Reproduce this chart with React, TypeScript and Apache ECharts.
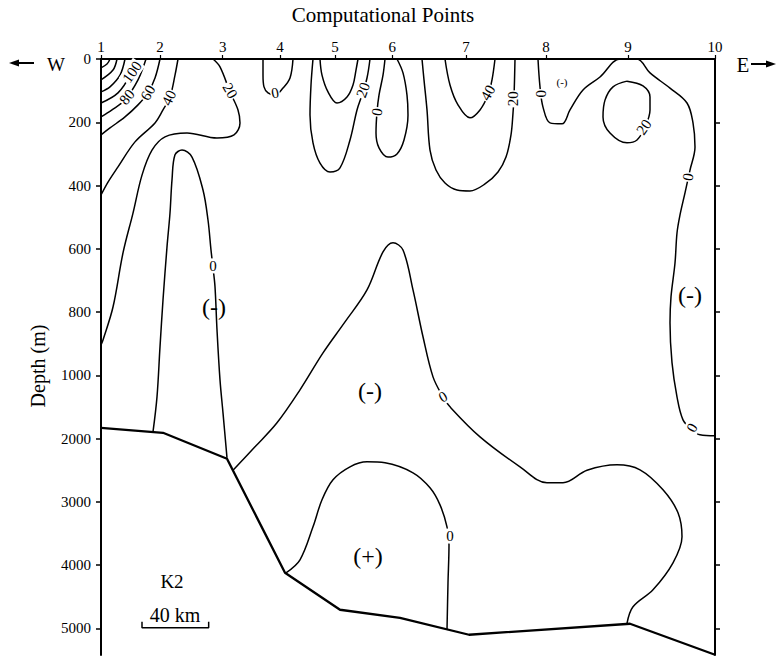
import { useEffect, useRef } from "react";
import * as echarts from "echarts";

// ---- axes ----
const pointLabels = ["1", "2", "3", "4", "5", "6", "7", "8", "9", "10"];
const pointKm = [0, 35.4, 73, 107.4, 140.4, 174.8, 219, 267, 316.2, 368.4];
const depthTicks = [0, 200, 400, 600, 800, 1000, 2000, 3000, 4000, 5000];
const X_MAX = 368.4;
const DEPTH_MAX = 5420;

// depth axis is broken: 0-1000 m at 200 m per step, 1000-5000 m at 1000 m per step
const toU = (d: number) => (d <= 1000 ? d / 200 : 5 + (d - 1000) / 1000);
const fromU = (u: number) => (u <= 5 ? u * 200 : 1000 + (u - 5) * 1000);

// ---- contours: [distance km, depth m] ----
const c160 = [[5.4, 0], [3.6, 16], [0, 28]];
const c140 = [[9.6, 0], [7.2, 35], [0, 66]];
const c120 = [[14.4, 0], [11.4, 51], [5.4, 88], [0, 104]];
const c100 = [[20.4, 0], [17.4, 51], [10.2, 107], [0, 139]];
const c80 = [[27, 0], [22.2, 66], [14.4, 129], [6.6, 161], [0, 183]];
const c60 = [[35.4, 0], [32.4, 60], [28.2, 107], [22.2, 145], [14.4, 183], [5.4, 218], [0, 240]];
const c40 = [[46.2, 0], [44.4, 51], [41.4, 120], [37.2, 161], [32.4, 202], [20.4, 262], [10.2, 341], [4.2, 389], [0, 430]];
const c20West = [[67.2, 0], [71.4, 25], [77.4, 104], [82.2, 161], [83.4, 202], [79.8, 240], [69.6, 250], [51.6, 234], [38.4, 246], [30.6, 288], [24.6, 367], [19.2, 487], [13.2, 613], [7.2, 784], [1.2, 888], [0, 904]];
const c0Tongue = [[31.2, 1893], [33.6, 1340], [35.4, 910], [37.2, 762], [39.6, 594], [41.4, 487], [42.6, 382], [44.4, 303], [48.6, 288], [54.6, 310], [61.2, 414], [64.2, 509], [66, 604], [67.2, 660], [68.4, 720], [69.6, 856], [71.4, 1071], [73.2, 1593], [75.6, 2304]];
const c0Pt4 = [[97.2, 0], [97.2, 51], [97.8, 88], [100.2, 107], [104.4, 114], [109.2, 92], [113.4, 60], [115.2, 0]];
const c40Pt5 = [[131.4, 0], [132.6, 51], [136.2, 104], [141.6, 139], [147.6, 120], [151.2, 82], [153, 35], [154.2, 0]];
const c20Pt5 = [[127.2, 0], [126, 82], [125.4, 177], [127.2, 265], [131.4, 329], [137.4, 357], [143.4, 344], [149.4, 256], [153.6, 161], [156.6, 114], [159.6, 60], [161.4, 0]];
const c0Pt6 = [[170.4, 0], [169.2, 51], [166.8, 114], [165.6, 167], [165, 234], [166.8, 281], [172.2, 310], [177.6, 300], [181.8, 256], [184.2, 177], [183.6, 114], [181.2, 44], [177.6, 0]];
const c20Pt7 = [[192.6, 0], [193.8, 66], [195.6, 161], [197.4, 288], [201, 351], [206.4, 392], [213.6, 414], [221.4, 417], [230.4, 395], [238.2, 357], [243, 310], [246, 240], [247.2, 171], [247.8, 120], [248.4, 0]];
const c40Pt7 = [[206.4, 0], [209.4, 82], [214.2, 145], [221.4, 186], [227.4, 161], [232.2, 114], [234.6, 66], [236.4, 0]];
const c20Loop9 = [[315.6, 70], [307.2, 88], [302.4, 130], [301.2, 183], [305.4, 234], [315.6, 265], [321.6, 256], [326.4, 215], [329.4, 161], [329.4, 120], [325.2, 85], [315.6, 70]];
const c0East = [[262.2, 0], [263.4, 88], [265.2, 152], [269.4, 202], [276.6, 205], [281.4, 161], [289.2, 98], [299.4, 57], [311.4, 0], [321.6, 0], [329.4, 44], [341.4, 92], [351.6, 139], [355.2, 202], [356.4, 278], [353.4, 351], [350.4, 423], [347.4, 493], [345.6, 550], [344.4, 645], [342, 752], [341.4, 834], [342.6, 960], [345.6, 1340], [349.2, 1703], [354.6, 1861], [359.4, 1940], [368.4, 1956]];
const c0Middle = [[79.2, 2501], [92.4, 2130], [105.6, 1750], [119.4, 1229], [133.2, 929], [146.4, 831], [159.6, 730], [169.2, 610], [175.2, 581], [181.2, 604], [187.2, 730], [193.2, 878], [199.2, 1024], [205.2, 1340], [209.4, 1498], [227.4, 1972], [251.4, 2446], [267.6, 2699], [277.2, 2699], [291.6, 2501], [309.6, 2414], [323.4, 2493], [337.2, 2809], [346.2, 3173], [348.6, 3552], [343.2, 3963], [331.2, 4389], [319.2, 4658], [315.6, 4920]];
const c0Plus = [[111, 4121], [119.4, 3915], [127.2, 3394], [132.6, 2967], [139.2, 2651], [149.4, 2446], [159.6, 2367], [170.4, 2383], [187.2, 2541], [197.4, 2778], [203.4, 3047], [207.6, 3394], [208.8, 3678], [208.2, 4279], [207.6, 5021]];
const bathymetry = [[0, 1830], [37.2, 1908], [75.6, 2319], [110.4, 4121], [143.4, 4705], [179.4, 4832], [220.8, 5100], [317.4, 4926], [368.4, 5416]];
const scaleBar = [[24.6, 4895], [24.6, 4990], [64.6, 4990], [64.6, 4895]];

// ---- labels: [text, km, depth m, rotation deg] ----
const contourLabels: [string, number, number, number][] = [
  ["100", 18.6, 41, 55],
  ["80", 15.6, 120, 50],
  ["60", 28.2, 107, 60],
  ["40", 40.8, 123, 65],
  ["20", 77.4, 100, -60],
  ["0", 104.4, 107, 10],
  ["20", 157.2, 98, 70],
  ["0", 165.6, 167, 80],
  ["40", 232.2, 107, 60],
  ["20", 247.2, 126, 90],
  ["0", 264, 110, 90],
  ["20", 325.8, 215, 55],
  ["0", 352.2, 373, 80],
  ["0", 67.2, 654, 0],
  ["0", 205.2, 1340, 30],
  ["0", 209.4, 3540, 0],
  ["0", 354.6, 1830, 60],
];
// [text, km, depth m, font size]
const regionLabels: [string, number, number, number][] = [
  ["(-)", 67.8, 784, 24],
  ["(-)", 161.4, 1245, 24],
  ["(-)", 353.4, 746, 24],
  ["(+)", 160.2, 3852, 24],
  ["(-)", 276.6, 73, 11],
  ["K2", 42.6, 4263, 19],
  ["40 km", 44.4, 4790, 20],
];

const SERIF = "'Liberation Serif', 'Times New Roman', serif";

export default function App() {
  const ref = useRef<HTMLDivElement>(null);
  useEffect(() => {
    if (!ref.current) return;
    const chart = echarts.init(ref.current, undefined, { renderer: "svg" });
    const conv = (arr: number[][]) => arr.map(([x, d]) => [x, toU(d)]);
    const contours = [c160, c140, c120, c100, c80, c60, c40, c20West, c0Tongue, c0Pt4, c40Pt5, c20Pt5, c0Pt6, c20Pt7, c40Pt7, c20Loop9, c0East, c0Middle, c0Plus];
    const lineSeries = contours.map((c) => ({
      type: "line",
      data: conv(c),
      smooth: 0.35,
      showSymbol: false,
      silent: true,
      lineStyle: { color: "#000", width: 1.5 },
      z: 3,
    }));
    const uTicks = depthTicks.map(toU);
    const yCommon = {
      type: "value",
      inverse: true,
      min: 0,
      max: toU(DEPTH_MAX),
      splitLine: { show: false },
      axisLine: { show: true, lineStyle: { color: "#000", width: 2 } },
    };
    chart.setOption({
      animation: false,
      grid: { left: 101, top: 59, width: 614, height: 596, containLabel: false, outerBoundsMode: "none" },
      xAxis: {
        type: "value",
        position: "top",
        min: 0,
        max: X_MAX,
        splitLine: { show: false },
        axisLine: { show: true, onZero: false, lineStyle: { color: "#000", width: 2 } },
        axisTick: { show: true, customValues: pointKm, length: 4, lineStyle: { color: "#000", width: 1.2 } },
        axisLabel: {
          customValues: pointKm,
          margin: 5,
          fontFamily: SERIF,
          fontSize: 15,
          color: "#000",
          formatter: (v: number) => {
            const i = pointKm.findIndex((k) => Math.abs(k - v) < 0.5);
            return i >= 0 ? pointLabels[i] : "";
          },
        },
      },
      yAxis: [
        {
          ...yCommon,
          position: "left",
          axisTick: { show: true, customValues: uTicks, length: 5, lineStyle: { color: "#000", width: 1.5 } },
          axisLabel: {
            customValues: uTicks,
            margin: 10,
            fontFamily: SERIF,
            fontSize: 15,
            color: "#000",
            formatter: (v: number) => String(Math.round(fromU(v))),
          },
        },
        {
          ...yCommon,
          position: "right",
          axisTick: { show: true, customValues: uTicks.slice(1), length: 5, lineStyle: { color: "#000", width: 1.5 } },
          axisLabel: { show: false },
        },
      ],
      series: [
        ...lineSeries,
        {
          type: "line",
          data: conv(bathymetry),
          smooth: false,
          showSymbol: false,
          silent: true,
          lineStyle: { color: "#000", width: 2.3 },
          z: 4,
        },
        {
          type: "line",
          data: conv(scaleBar),
          smooth: false,
          showSymbol: false,
          silent: true,
          lineStyle: { color: "#000", width: 1.5 },
          z: 4,
        },
      ],
    });

    const toPx = (x: number, d: number) =>
      chart.convertToPixel({ xAxisIndex: 0, yAxisIndex: 0 }, [x, toU(d)]) as number[];

    const contourTexts = contourLabels.map(([t, x, d, r]) => {
      const [px, py] = toPx(x, d);
      return {
        type: "text",
        x: px,
        y: py,
        rotation: (r * Math.PI) / 180,
        z: 100,
        style: {
          text: t,
          font: `15px ${SERIF}`,
          fill: "#000",
          align: "center",
          verticalAlign: "middle",
          backgroundColor: "#fff",
          padding: [0, 1],
        },
      };
    });
    const regionTexts = regionLabels.map(([t, x, d, s]) => {
      const [px, py] = toPx(x, d);
      return {
        type: "text",
        x: px,
        y: py,
        z: 100,
        style: { text: t, font: `${s}px ${SERIF}`, fill: "#000", align: "center", verticalAlign: "middle" },
      };
    });

    chart.setOption({
      graphic: [
        { type: "text", x: 383, y: 15, style: { text: "Computational Points", font: `21px ${SERIF}`, fill: "#000", align: "center", verticalAlign: "middle" } },
        { type: "text", x: 38, y: 366, rotation: Math.PI / 2, style: { text: "Depth (m)", font: `20px ${SERIF}`, fill: "#000", align: "center", verticalAlign: "middle" } },
        { type: "line", shape: { x1: 16, y1: 63, x2: 34, y2: 63 }, style: { stroke: "#000", lineWidth: 2 } },
        { type: "polygon", shape: { points: [[9, 63], [19, 59.5], [19, 66.5]] }, style: { fill: "#000" } },
        { type: "text", x: 56, y: 64, style: { text: "W", font: `19px ${SERIF}`, fill: "#000", align: "center", verticalAlign: "middle" } },
        { type: "text", x: 743, y: 65, style: { text: "E", font: `21px ${SERIF}`, fill: "#000", align: "center", verticalAlign: "middle" } },
        { type: "line", shape: { x1: 751, y1: 64, x2: 768, y2: 64 }, style: { stroke: "#000", lineWidth: 2 } },
        { type: "polygon", shape: { points: [[776, 64], [766, 60.5], [766, 67.5]] }, style: { fill: "#000" } },
        ...contourTexts,
        ...regionTexts,
      ],
    });
    return () => chart.dispose();
  }, []);
  return <div ref={ref} style={{ position: "absolute", left: 0, top: 0, width: 777, height: 656, background: "#fff" }} />;
}
